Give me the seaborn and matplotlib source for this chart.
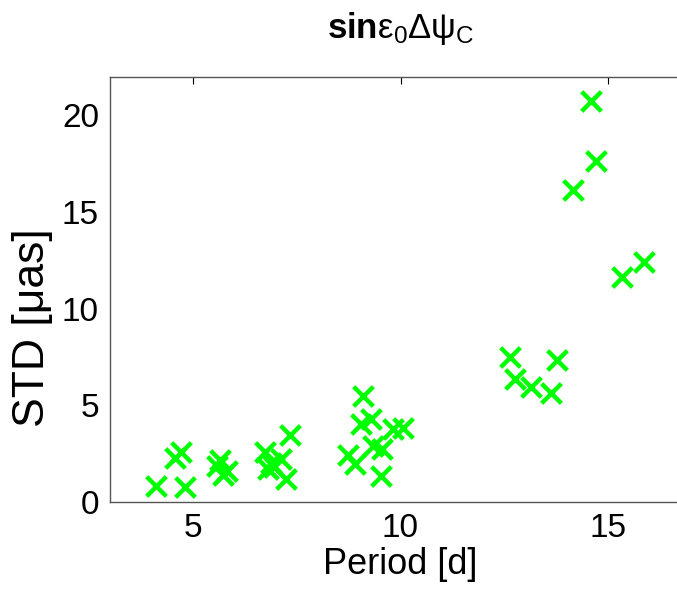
import matplotlib
matplotlib.use("Agg")
import matplotlib.pyplot as plt
import seaborn as sns
import pandas as pd

period = [4.10, 4.56, 4.71, 4.80, 5.57, 5.65, 5.72, 5.81,
          6.73, 6.81, 6.89, 6.95, 7.13, 7.25, 7.33,
          8.74, 8.90, 9.06, 9.10, 9.30, 9.34, 9.55, 9.54, 9.82, 10.07,
          12.63, 12.77, 13.14, 13.62, 13.76,
          14.16, 14.60, 14.72, 15.33, 15.87]
std_uas = [0.82, 2.25, 2.59, 0.74, 1.85, 2.15, 1.40, 1.60,
           2.55, 1.70, 2.00, 1.80, 2.20, 1.15, 3.45,
           2.40, 1.95, 4.00, 5.47, 4.30, 2.90, 2.75, 1.35, 3.75, 3.80,
           7.50, 6.35, 5.95, 5.65, 7.35,
           16.15, 20.75, 17.65, 11.65, 12.40]
xticks = [5, 10, 15]
yticks = [0, 5, 10, 15, 20]

df = pd.DataFrame({"period": period, "std": std_uas})

sns.set_style("white")
plt.rcParams["font.family"] = ["Liberation Sans", "DejaVu Sans"]
plt.rcParams["text.color"] = "black"
plt.rcParams["axes.labelcolor"] = "black"
plt.rcParams["mathtext.fontset"] = "custom"
plt.rcParams["mathtext.rm"] = "Liberation Sans"
plt.rcParams["mathtext.it"] = "Liberation Sans"
plt.rcParams["mathtext.bf"] = "Liberation Sans:bold"
plt.rcParams["mathtext.default"] = "regular"

fig = plt.figure(figsize=(6.77, 5.95), dpi=100)
# axes extends slightly past the right edge of the figure (cropped, as in reference)
ax = fig.add_axes([110 / 677, 1 - 501.7 / 595, 581 / 677, (501.7 - 76.7) / 595])

sns.scatterplot(data=df, x="period", y="std", ax=ax, marker="x", s=200,
                color="#00ff00", linewidth=3.2, legend=False)

ax.set_xlim(3, 17)
ax.set_ylim(0, 22)
ax.set_xticks(xticks)
ax.set_yticks(yticks)
ax.tick_params(direction="in", length=5, width=0.8, labelsize=24, colors="black",
               top=True, right=False, pad=8)
for sp in ax.spines.values():
    sp.set_color("#555555")
    sp.set_linewidth(1.0)

ax.set_xlabel("Period [d]", fontsize=26, labelpad=2)
ax.set_ylabel("STD [μas]", fontsize=32)
ax.yaxis.set_label_coords(-0.098, 0.41)
ax.set_title(r"$\mathbf{sin}\varepsilon_0\Delta\psi_C$", fontsize=25, pad=28)

fig.savefig("out.png", dpi=100)
